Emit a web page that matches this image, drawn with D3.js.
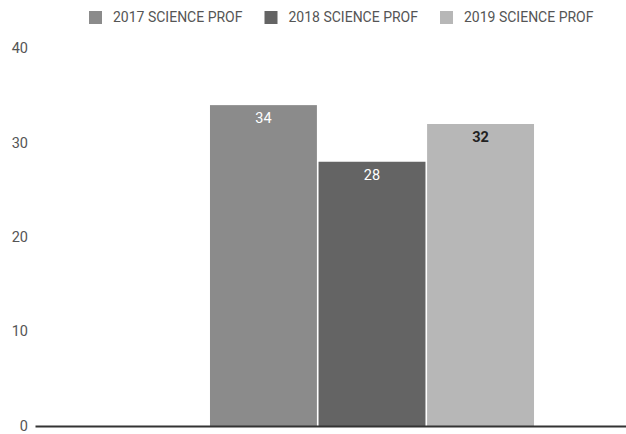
<!DOCTYPE html>
<html>
<head>
<meta charset="utf-8">
<script src="https://cdn.jsdelivr.net/npm/d3@7"></script>
<style>
  html, body { margin: 0; padding: 0; background: #fff; }
  svg { display: block; font-family: Roboto, "Noto Sans", sans-serif; }
</style>
</head>
<body>
<svg id="chart" width="626" height="434"></svg>
<script>
// Science proficiency by year (single group, three series)
const categories = ["SCIENCE PROF"];
const seriesNames = ["2017 SCIENCE PROF", "2018 SCIENCE PROF", "2019 SCIENCE PROF"];
const seriesValues = [34, 28, 32];
const seriesColors = ["#8b8b8b", "#646464", "#b7b7b7"];
const labelColors = ["#ffffff", "#ffffff", "#222222"];
const labelWeights = ["normal", "normal", "bold"];
const yTicks = [0, 10, 20, 30, 40];

const svg = d3.select("#chart");
const margin = { left: 35 };

const y = d3.scaleLinear().domain([0, 40]).range([426, 48.5]);

// Outer band for the category; the plot area continues past the right edge
const x0 = d3.scaleBand().domain(categories).range([margin.left, 709])
  .paddingInner(0).paddingOuter(0.54);
const x1 = d3.scaleBand().domain(seriesNames).range([0, x0.bandwidth()])
  .paddingInner(0.015).paddingOuter(0);

// Y axis labels (no ticks / domain line)
const yAxis = d3.axisLeft(y).tickValues(yTicks).tickSize(0).tickPadding(0);
const gy = svg.append("g").attr("transform", "translate(28,0)").call(yAxis);
gy.select(".domain").remove();
gy.selectAll("text").attr("fill", "#555").style("font-size", "14.5px")
  .style("font-family", "Roboto, sans-serif").attr("dy", "0.3em");

// Bars
const data = seriesNames.map((s, i) => ({ name: s, value: seriesValues[i], i }));
const g = svg.append("g");
g.selectAll("rect").data(data).enter().append("rect")
  .attr("x", d => x0(categories[0]) + x1(d.name))
  .attr("y", d => y(d.value))
  .attr("width", x1.bandwidth())
  .attr("height", d => y(0) - y(d.value))
  .attr("fill", d => seriesColors[d.i]);

// Value labels inside the bars
g.selectAll("text.val").data(data).enter().append("text")
  .attr("class", "val")
  .attr("x", d => x0(categories[0]) + x1(d.name) + x1.bandwidth() / 2)
  .attr("y", d => y(d.value) + 14)
  .attr("text-anchor", "middle")
  .attr("dominant-baseline", "middle")
  .attr("fill", d => labelColors[d.i])
  .style("font-weight", d => labelWeights[d.i])
  .style("font-size", "14.5px")
  .text(d => d.value);

// Baseline
const xAxis = d3.axisBottom(x0).tickSize(0).tickFormat("");
const gx = svg.append("g").attr("transform", `translate(0,${y(0)})`).call(xAxis);
gx.select(".domain").attr("stroke", "#333").attr("stroke-width", 2);

// Legend
const legend = svg.append("g").attr("transform", "translate(89,11)");
let lx = 0;
seriesNames.forEach((name, i) => {
  const item = legend.append("g").attr("transform", `translate(${lx},0)`);
  item.append("rect").attr("width", 13).attr("height", 13).attr("fill", seriesColors[i]);
  const t = item.append("text").attr("x", 24).attr("y", 7.5)
    .attr("dominant-baseline", "middle")
    .attr("fill", "#555").style("font-size", "14px").text(name);
  const w = t.node().getComputedTextLength();
  lx += 24 + w + 22;
});
</script>
</body>
</html>
